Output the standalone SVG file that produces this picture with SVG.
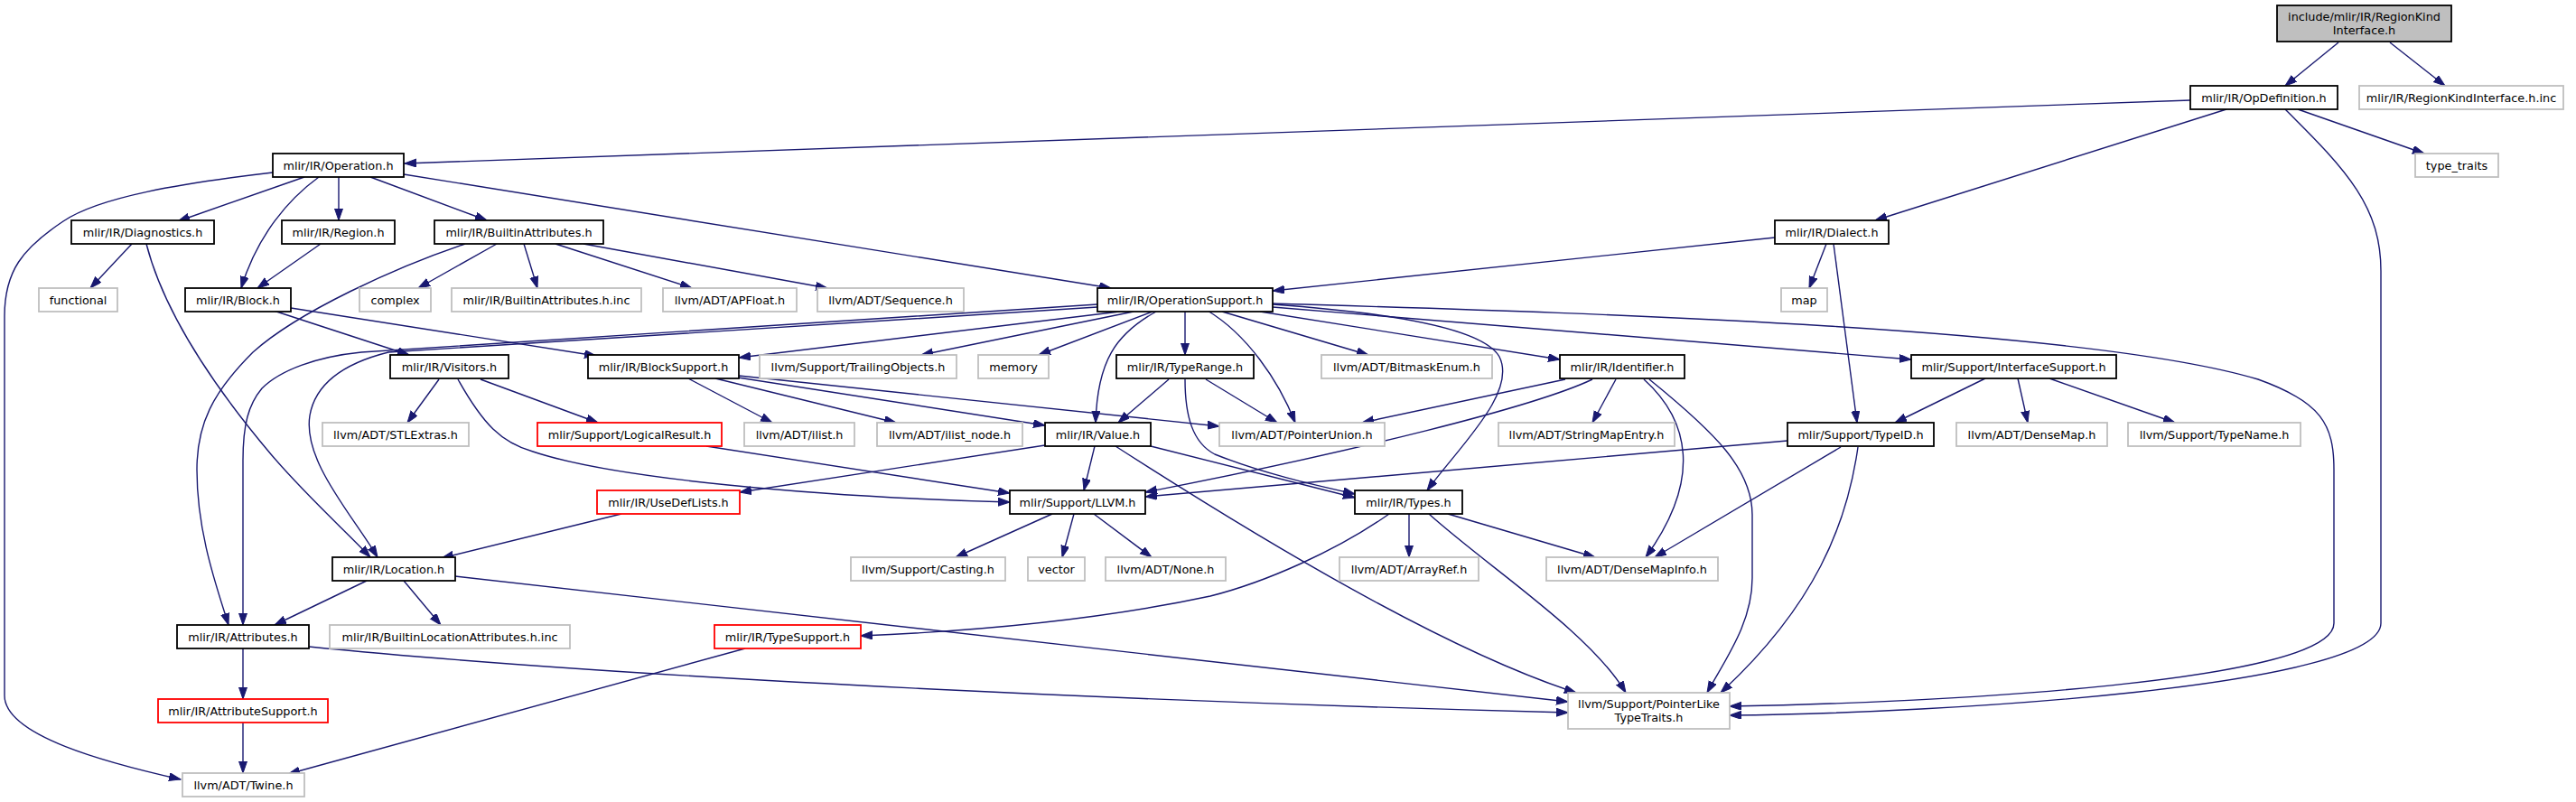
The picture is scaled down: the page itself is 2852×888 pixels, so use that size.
<svg xmlns="http://www.w3.org/2000/svg" width="2852" height="888" viewBox="0 0 2852 888">
<style>
.nd rect{fill:#fff;stroke:#000;stroke-width:1.8}
.nd.g rect{stroke:#bfbfbf}
.nd.r rect{stroke:#ff0000}
.nd.t rect{fill:#bfbfbf}
text{font-family:"DejaVu Sans","Liberation Sans",sans-serif;font-size:12.8px;text-anchor:middle;fill:#000}
#edges path{fill:none;stroke:#191970;stroke-width:1.4;marker-end:url(#a)}
</style>
<defs>
<marker id="a" markerWidth="14" markerHeight="10" refX="13" refY="4.5" orient="auto" markerUnits="userSpaceOnUse"><path d="M0,0 L13,4.5 L0,9 z" fill="#191970" stroke="#191970" stroke-width="1"/></marker>
</defs>
<rect width="2852" height="888" fill="#fff"/>
<g id="edges">
<path d="M2589,47 L2530,95"/>
<path d="M2646,47 L2707,95"/>
<path d="M2425,111 L448,181"/>
<path d="M2465,121 L2076,244"/>
<path d="M2544,121 L2684,170"/>
<path d="M2530,121 C2600,190 2636,230 2636,300 L2636,690 C2636,760 2150,790 1915,792"/>
<path d="M1409,336 C1700,345 2300,360 2500,420 C2570,445 2584,470 2584,520 L2584,690 C2584,755 2150,778 1915,782"/>
<path d="M337,196 L197,245"/>
<path d="M375,196 L375,244"/>
<path d="M353,196 C320,220 285,260 267,319"/>
<path d="M410,196 L539,244"/>
<path d="M447,193 L1230,319"/>
<path d="M302,191 C200,203 110,218 70,245 C25,275 5,300 5,350 L5,770 C5,815 120,845 200,863"/>
<path d="M146,270 L100,319"/>
<path d="M162,270 C180,340 230,420 300,503 C340,550 385,590 410,617"/>
<path d="M355,270 L285,319"/>
<path d="M303,344 L453,393"/>
<path d="M322,341 L660,394"/>
<path d="M550,270 L463,319"/>
<path d="M580,270 L595,319"/>
<path d="M615,270 L766,319"/>
<path d="M646,270 L916,319"/>
<path d="M515,270 C440,295 330,345 280,390 C235,435 218,470 218,520 C218,590 240,650 253,692"/>
<path d="M1965,263 L1409,322"/>
<path d="M2022,270 L2003,319"/>
<path d="M2030,270 L2056,468"/>
<path d="M1248,344 L818,396"/>
<path d="M1255,345 L1020,393"/>
<path d="M1276,345 L1150,393"/>
<path d="M1280,345 C1235,370 1215,400 1213,468"/>
<path d="M1312,345 L1312,393"/>
<path d="M1337,344 C1380,370 1415,420 1434,468"/>
<path d="M1353,345 L1515,393"/>
<path d="M1395,345 L1727,398"/>
<path d="M1409,337 C1520,345 1640,360 1660,395 C1680,435 1615,495 1580,543"/>
<path d="M1409,340 L2116,398"/>
<path d="M1215,337 L400,390 C350,395 310,410 290,430 C275,448 269,470 269,510 L269,692"/>
<path d="M1215,340 L430,390 C390,400 350,420 343,460 C335,510 390,570 418,617"/>
<path d="M486,420 L451,468"/>
<path d="M532,420 L662,468"/>
<path d="M507,420 C535,470 555,490 590,500 C680,530 900,550 1118,556"/>
<path d="M782,494 L1118,546"/>
<path d="M762,419 L855,468"/>
<path d="M792,419 L992,468"/>
<path d="M817,418 L1157,471"/>
<path d="M818,416 L1350,472"/>
<path d="M1294,420 L1238,468"/>
<path d="M1335,420 L1414,468"/>
<path d="M1312,420 C1312,460 1320,490 1345,503 C1400,525 1460,538 1500,547"/>
<path d="M1157,493 L819,545"/>
<path d="M1212,494 L1200,543"/>
<path d="M1274,494 L1500,551"/>
<path d="M1235,494 C1400,600 1600,720 1745,767"/>
<path d="M1733,420 L1508,468"/>
<path d="M1763,420 C1700,450 1500,500 1268,545"/>
<path d="M1789,420 L1763,468"/>
<path d="M1820,420 C1870,465 1885,530 1822,617"/>
<path d="M1826,420 C1900,480 1940,520 1940,570 L1940,640 C1940,690 1910,730 1890,767"/>
<path d="M2198,419 L2098,468"/>
<path d="M2234,419 L2245,468"/>
<path d="M2269,419 L2408,468"/>
<path d="M1979,488 L1268,550"/>
<path d="M2038,495 L1832,617"/>
<path d="M2057,495 C2045,580 2010,670 1905,767"/>
<path d="M688,569 L489,618"/>
<path d="M1165,569 L1058,617"/>
<path d="M1189,569 L1176,617"/>
<path d="M1211,569 L1275,617"/>
<path d="M1538,569 C1480,610 1400,645 1340,660 C1200,690 1050,700 953,704"/>
<path d="M1560,569 L1560,617"/>
<path d="M1603,569 L1766,617"/>
<path d="M1582,569 C1650,630 1760,700 1800,767"/>
<path d="M406,643 L304,692"/>
<path d="M447,643 L488,692"/>
<path d="M504,638 L1736,777"/>
<path d="M269,718 L269,774"/>
<path d="M342,716 C700,752 1300,778 1736,789"/>
<path d="M269,800 L269,856"/>
<path d="M825,718 L319,857"/>
</g>
<g id="n_top" class="nd t"><rect x="2521" y="6" width="193" height="40"/><text x="2617.5" y="23">include/mlir/IR/RegionKind</text><text x="2617.5" y="38">Interface.h</text></g>
<g id="n_opdef" class="nd"><rect x="2425" y="95" width="163" height="26"/><text x="2506.5" y="112.5">mlir/IR/OpDefinition.h</text></g>
<g id="n_rkiinc" class="nd g"><rect x="2612" y="95" width="226" height="26"/><text x="2725" y="112.5">mlir/IR/RegionKindInterface.h.inc</text></g>
<g id="n_operation" class="nd"><rect x="302" y="170" width="145" height="26"/><text x="374.5" y="187.5">mlir/IR/Operation.h</text></g>
<g id="n_typetraits" class="nd g"><rect x="2674" y="170" width="92" height="26"/><text x="2720" y="187.5">type_traits</text></g>
<g id="n_diag" class="nd"><rect x="79" y="244" width="158" height="26"/><text x="158" y="261.5">mlir/IR/Diagnostics.h</text></g>
<g id="n_region" class="nd"><rect x="312" y="244" width="125" height="26"/><text x="374.5" y="261.5">mlir/IR/Region.h</text></g>
<g id="n_battr" class="nd"><rect x="481" y="244" width="187" height="26"/><text x="574.5" y="261.5">mlir/IR/BuiltinAttributes.h</text></g>
<g id="n_dialect" class="nd"><rect x="1965" y="244" width="126" height="26"/><text x="2028" y="261.5">mlir/IR/Dialect.h</text></g>
<g id="n_functional" class="nd g"><rect x="43" y="319" width="87" height="26"/><text x="86.5" y="336.5">functional</text></g>
<g id="n_block" class="nd"><rect x="205" y="319" width="117" height="26"/><text x="263.5" y="336.5">mlir/IR/Block.h</text></g>
<g id="n_complex" class="nd g"><rect x="398" y="319" width="79" height="26"/><text x="437.5" y="336.5">complex</text></g>
<g id="n_battrinc" class="nd g"><rect x="500" y="319" width="210" height="26"/><text x="605" y="336.5">mlir/IR/BuiltinAttributes.h.inc</text></g>
<g id="n_apfloat" class="nd g"><rect x="734" y="319" width="148" height="26"/><text x="808" y="336.5">llvm/ADT/APFloat.h</text></g>
<g id="n_sequence" class="nd g"><rect x="905" y="319" width="162" height="26"/><text x="986" y="336.5">llvm/ADT/Sequence.h</text></g>
<g id="n_opsupport" class="nd"><rect x="1215" y="319" width="194" height="26"/><text x="1312" y="336.5">mlir/IR/OperationSupport.h</text></g>
<g id="n_map" class="nd g"><rect x="1972" y="319" width="51" height="26"/><text x="1997.5" y="336.5">map</text></g>
<g id="n_visitors" class="nd"><rect x="432" y="393" width="131" height="26"/><text x="497.5" y="410.5">mlir/IR/Visitors.h</text></g>
<g id="n_blocksupport" class="nd"><rect x="651" y="393" width="167" height="26"/><text x="734.5" y="410.5">mlir/IR/BlockSupport.h</text></g>
<g id="n_trailing" class="nd g"><rect x="841" y="393" width="218" height="26"/><text x="950" y="410.5">llvm/Support/TrailingObjects.h</text></g>
<g id="n_memory" class="nd g"><rect x="1083" y="393" width="78" height="26"/><text x="1122" y="410.5">memory</text></g>
<g id="n_typerange" class="nd"><rect x="1236" y="393" width="152" height="26"/><text x="1312" y="410.5">mlir/IR/TypeRange.h</text></g>
<g id="n_bitmask" class="nd g"><rect x="1463" y="393" width="189" height="26"/><text x="1557.5" y="410.5">llvm/ADT/BitmaskEnum.h</text></g>
<g id="n_identifier" class="nd"><rect x="1727" y="393" width="138" height="26"/><text x="1796" y="410.5">mlir/IR/Identifier.h</text></g>
<g id="n_ifsupport" class="nd"><rect x="2116" y="393" width="227" height="26"/><text x="2229.5" y="410.5">mlir/Support/InterfaceSupport.h</text></g>
<g id="n_stlextras" class="nd g"><rect x="357" y="468" width="162" height="26"/><text x="438" y="485.5">llvm/ADT/STLExtras.h</text></g>
<g id="n_logical" class="nd r"><rect x="595" y="468" width="204" height="26"/><text x="697" y="485.5">mlir/Support/LogicalResult.h</text></g>
<g id="n_ilist" class="nd g"><rect x="824" y="468" width="122" height="26"/><text x="885" y="485.5">llvm/ADT/ilist.h</text></g>
<g id="n_ilistnode" class="nd g"><rect x="971" y="468" width="161" height="26"/><text x="1051.5" y="485.5">llvm/ADT/ilist_node.h</text></g>
<g id="n_value" class="nd"><rect x="1157" y="468" width="117" height="26"/><text x="1215.5" y="485.5">mlir/IR/Value.h</text></g>
<g id="n_punion" class="nd g"><rect x="1350" y="468" width="183" height="26"/><text x="1441.5" y="485.5">llvm/ADT/PointerUnion.h</text></g>
<g id="n_smentry" class="nd g"><rect x="1659" y="468" width="195" height="26"/><text x="1756.5" y="485.5">llvm/ADT/StringMapEntry.h</text></g>
<g id="n_typeid" class="nd"><rect x="1979" y="468" width="162" height="26"/><text x="2060" y="485.5">mlir/Support/TypeID.h</text></g>
<g id="n_densemap" class="nd g"><rect x="2166" y="468" width="167" height="26"/><text x="2249.5" y="485.5">llvm/ADT/DenseMap.h</text></g>
<g id="n_typename" class="nd g"><rect x="2356" y="468" width="191" height="26"/><text x="2451.5" y="485.5">llvm/Support/TypeName.h</text></g>
<g id="n_usedef" class="nd r"><rect x="661" y="543" width="158" height="26"/><text x="740" y="560.5">mlir/IR/UseDefLists.h</text></g>
<g id="n_llvm" class="nd"><rect x="1118" y="543" width="150" height="26"/><text x="1193" y="560.5">mlir/Support/LLVM.h</text></g>
<g id="n_types" class="nd"><rect x="1500" y="543" width="119" height="26"/><text x="1559.5" y="560.5">mlir/IR/Types.h</text></g>
<g id="n_location" class="nd"><rect x="368" y="617" width="136" height="26"/><text x="436" y="634.5">mlir/IR/Location.h</text></g>
<g id="n_casting" class="nd g"><rect x="942" y="617" width="171" height="26"/><text x="1027.5" y="634.5">llvm/Support/Casting.h</text></g>
<g id="n_vector" class="nd g"><rect x="1138" y="617" width="63" height="26"/><text x="1169.5" y="634.5">vector</text></g>
<g id="n_none" class="nd g"><rect x="1224" y="617" width="133" height="26"/><text x="1290.5" y="634.5">llvm/ADT/None.h</text></g>
<g id="n_arrayref" class="nd g"><rect x="1483" y="617" width="154" height="26"/><text x="1560" y="634.5">llvm/ADT/ArrayRef.h</text></g>
<g id="n_dmi" class="nd g"><rect x="1712" y="617" width="190" height="26"/><text x="1807" y="634.5">llvm/ADT/DenseMapInfo.h</text></g>
<g id="n_attributes" class="nd"><rect x="196" y="692" width="146" height="26"/><text x="269" y="709.5">mlir/IR/Attributes.h</text></g>
<g id="n_blai" class="nd g"><rect x="365" y="692" width="266" height="26"/><text x="498" y="709.5">mlir/IR/BuiltinLocationAttributes.h.inc</text></g>
<g id="n_typesupport" class="nd r"><rect x="791" y="692" width="162" height="26"/><text x="872" y="709.5">mlir/IR/TypeSupport.h</text></g>
<g id="n_attrsupport" class="nd r"><rect x="175" y="774" width="188" height="26"/><text x="269" y="791.5">mlir/IR/AttributeSupport.h</text></g>
<g id="n_plt" class="nd g"><rect x="1736" y="767" width="179" height="40"/><text x="1825.5" y="784">llvm/Support/PointerLike</text><text x="1825.5" y="799">TypeTraits.h</text></g>
<g id="n_twine" class="nd g"><rect x="202" y="856" width="135" height="26"/><text x="269.5" y="873.5">llvm/ADT/Twine.h</text></g>
</svg>
